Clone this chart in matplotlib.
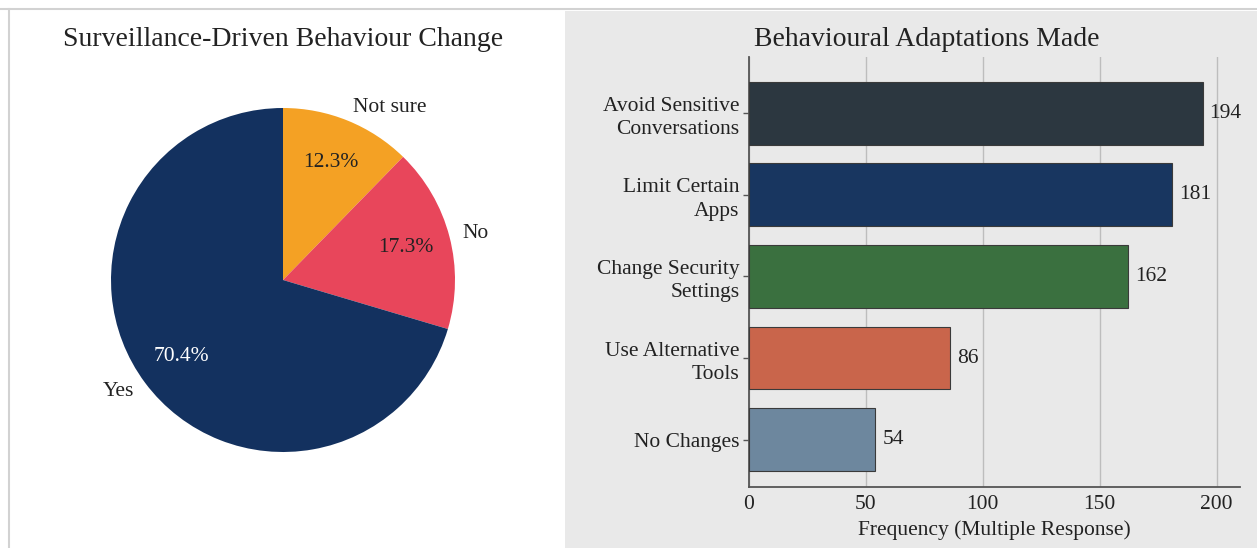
import matplotlib
matplotlib.use("Agg")
import matplotlib.pyplot as plt
from matplotlib.patches import Rectangle
from matplotlib.lines import Line2D

plt.rcParams["font.family"] = ["Liberation Serif", "DejaVu Serif"]

# Pie: did surveillance change behaviour?
pie_labels = ["Not sure", "No", "Yes"]
pie_shares = [12.3, 17.3, 70.4]
pie_colors = ["#F4A124", "#E8465B", "#13315F"]
pct_colors = ["#222222", "#222222", "#FFFFFF"]

# Bars: behavioural adaptations (multiple response)
adaptations = ["Avoid Sensitive\nConversations", "Limit Certain\nApps",
               "Change Security\nSettings", "Use Alternative\nTools", "No Changes"]
counts = [194, 181, 162, 86, 54]
bar_colors = ["#2C3740", "#183660", "#3A703F", "#C9654B", "#6D879E"]
x_ticks = [0, 50, 100, 150, 200]

W, H = 1257, 548
fig = plt.figure(figsize=(W / 100, H / 100), dpi=100)
fig.patch.set_facecolor("white")

def fx(px):
    return px / W

def fy(py):
    return 1 - py / H

# background panel behind the bar chart and thin frame lines
fig.patches.append(Rectangle((fx(565), 0), 1 - fx(565), fy(11), transform=fig.transFigure,
                             facecolor="#E9E9E9", edgecolor="none", zorder=-2))
fig.lines.append(Line2D([0, 1], [fy(9), fy(9)], transform=fig.transFigure,
                        color="#D2D2D2", lw=1.5, zorder=-1))
fig.lines.append(Line2D([fx(9), fx(9)], [0, fy(9)], transform=fig.transFigure,
                        color="#D2D2D2", lw=1.5, zorder=-1))

# ---- pie ----
cx, cy, r = 283, 280, 172
half = r * 1.25
ax1 = fig.add_axes([fx(cx - half), fy(cy + half), 2 * half / W, 2 * half / H])
wedges, texts, autotexts = ax1.pie(
    pie_shares, labels=pie_labels, colors=pie_colors, startangle=90,
    counterclock=False, autopct="%.1f%%", pctdistance=0.74, labeldistance=1.08,
    textprops={"fontsize": 15.5, "color": "#222222"})
for t, c in zip(autotexts, pct_colors):
    t.set_color(c)
ax1.set_xlim(-1.25, 1.25)
ax1.set_ylim(-1.25, 1.25)
ax1.set_aspect("equal")
fig.text(fx(283), fy(40), "Surveillance-Driven Behaviour Change", fontsize=20,
         ha="center", va="center", color="#222222")

# ---- horizontal bars ----
ax2 = fig.add_axes([fx(749), fy(487), (1240 - 749) / W, (487 - 57) / H])
ax2.set_facecolor("none")
ypos = list(range(len(adaptations)))
ax2.barh(ypos, counts, height=0.77, color=bar_colors, edgecolor="#3A3A3A",
         linewidth=0.8, zorder=3)
for y, v in zip(ypos, counts):
    ax2.text(v + 3, y, str(v), va="center", ha="left", fontsize=15.5, color="#222222")
ax2.set_yticks(ypos)
ax2.set_yticklabels(adaptations, fontsize=15.5, color="#222222", linespacing=1.3)
ax2.set_ylim(4.58, -0.69)
ax2.set_xlim(0, 210)
ax2.set_xticks(x_ticks)
ax2.tick_params(axis="x", length=0, pad=6, labelsize=15.5, labelcolor="#222222")
ax2.tick_params(axis="y", length=4, width=1, color="#555555", pad=3)
ax2.grid(axis="x", color="#BDBDBD", linewidth=1, zorder=0)
ax2.set_axisbelow(True)
for s in ["top", "right"]:
    ax2.spines[s].set_visible(False)
for s in ["left", "bottom"]:
    ax2.spines[s].set_color("#555555")
    ax2.spines[s].set_linewidth(1.3)
ax2.set_xlabel("Frequency (Multiple Response)", fontsize=15.5, color="#222222", labelpad=4)
fig.text(fx(927), fy(40), "Behavioural Adaptations Made", fontsize=20,
         ha="center", va="center", color="#222222")

fig.savefig("out.png", dpi=100)
